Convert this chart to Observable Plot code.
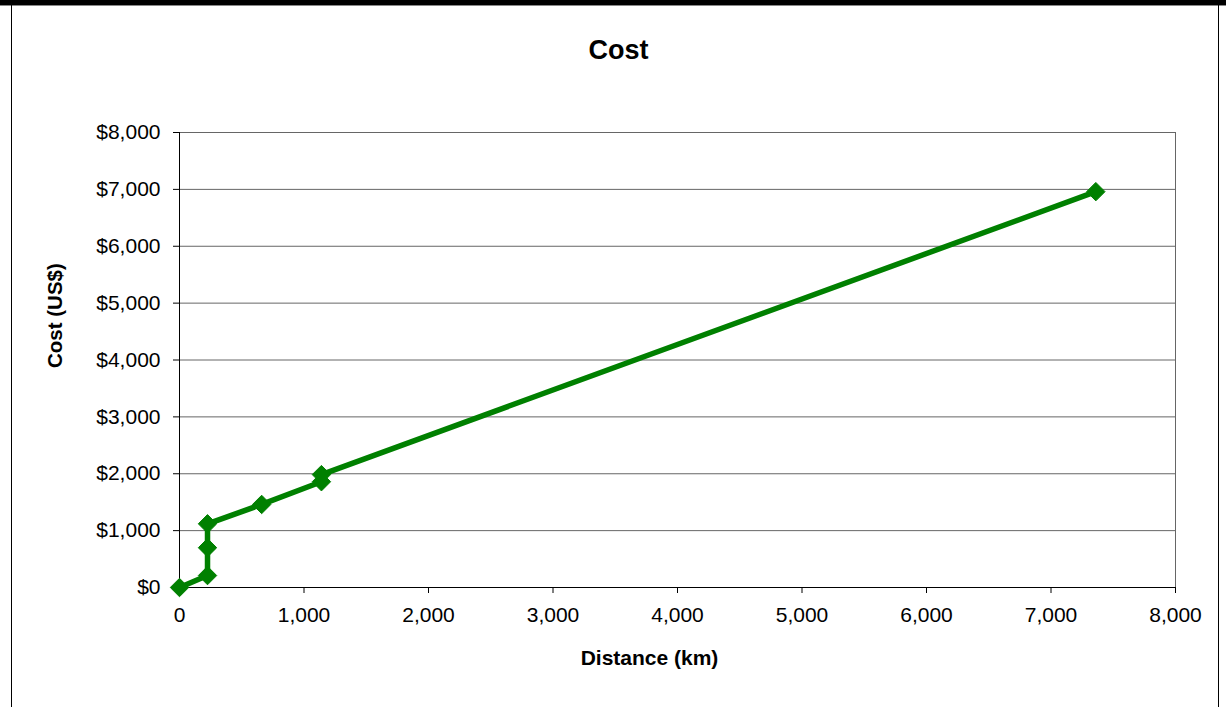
<!DOCTYPE html>
<html><head><meta charset="utf-8">
<script src="https://cdn.jsdelivr.net/npm/d3@7"></script>
<script src="https://cdn.jsdelivr.net/npm/@observablehq/plot@0.6"></script>
<style>
body{margin:0;background:#fff;}
#wrap{position:relative;width:1226px;height:707px;overflow:hidden;background:#fff;font-family:"Liberation Sans",Arial,sans-serif;}
#topbar{position:absolute;left:0;top:0;width:1226px;height:5px;background:#000;}
#topline{position:absolute;left:0;top:5px;width:1226px;height:1px;background:#888;}
#lb{position:absolute;left:11px;top:5px;width:1px;height:702px;background:#000;}
#rb{position:absolute;left:1218px;top:5px;width:1px;height:702px;background:#000;}
#chart svg{position:absolute;left:0;top:0;}
</style></head>
<body>
<div id="wrap">
  <div id="chart"></div>
  <div id="topbar"></div><div id="topline"></div><div id="lb"></div><div id="rb"></div>
</div>
<script>
const distanceKm = [0, 225, 225, 225, 660, 1140, 1140, 7360];
const costUsd = [0, 210, 700, 1120, 1460, 1860, 1985, 6960];
const xTicks = [0, 1000, 2000, 3000, 4000, 5000, 6000, 7000, 8000];
const yTicks = [0, 1000, 2000, 3000, 4000, 5000, 6000, 7000, 8000];
const titleText = "Cost";
const xLabel = "Distance (km)";
const yLabel = "Cost (US$)";

const data = distanceKm.map((d, i) => ({distance: d, cost: costUsd[i]}));
const fmt = d3.format(",");

const chart = Plot.plot({
  width: 1226,
  height: 707,
  marginLeft: 179,
  marginRight: 51,
  marginTop: 132,
  marginBottom: 120,
  style: {fontFamily: '"Liberation Sans", Arial, sans-serif', fontSize: "21px", color: "#000", background: "transparent"},
  x: {domain: [0, 8000]},
  y: {domain: [0, 8000]},
  marks: [
    Plot.gridY(yTicks, {stroke: "#666", strokeOpacity: 1, strokeWidth: 1}),
    Plot.ruleX([8000], {stroke: "#666", strokeWidth: 1}),
    Plot.axisY(yTicks, {tickSize: 6, tickPadding: 13, tickFormat: d => "$" + fmt(d), label: null, fontSize: 21, stroke: "#000"}),
    Plot.axisX(xTicks, {tickSize: 6, tickPadding: 14, tickFormat: fmt, label: null, fontSize: 21, stroke: "#000"}),
    Plot.ruleX([0], {stroke: "#000", strokeWidth: 1}),
    Plot.ruleY([0], {stroke: "#000", strokeWidth: 1}),
    Plot.line(data, {x: "distance", y: "cost", stroke: "#008000", strokeWidth: 5.5}),
    Plot.dot(data, {x: "distance", y: "cost", symbol: "diamond2", r: 8.3, fill: "#008000", stroke: "#008000", strokeWidth: 1}),
    Plot.text([titleText], {frameAnchor: "top", lineAnchor: "middle", dx: -59, dy: -82, fontSize: 27, fontWeight: "bold", fill: "#000"}),
    Plot.text([xLabel], {frameAnchor: "bottom", lineAnchor: "middle", dx: -28, dy: 71, fontSize: 21, fontWeight: "bold", fill: "#000"}),
    Plot.text([yLabel], {frameAnchor: "left", lineAnchor: "middle", dx: -124, dy: 8, rotate: -90, fontSize: 20.5, fontWeight: "bold", fill: "#000"})
  ]
});
document.getElementById("chart").appendChild(chart);
</script>
</body></html>
